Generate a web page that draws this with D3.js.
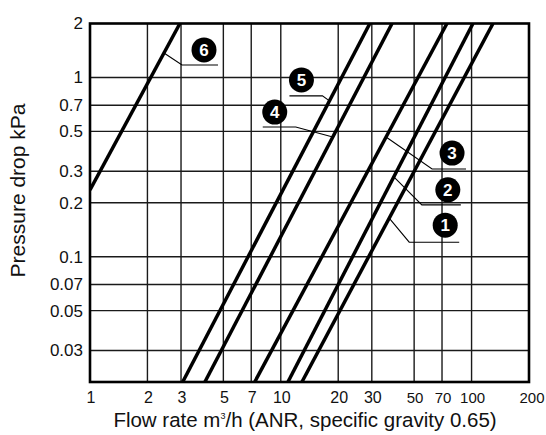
<!DOCTYPE html>
<html>
<head>
<meta charset="utf-8">
<script src="https://cdn.jsdelivr.net/npm/d3@7"></script>
<style>
  body { margin: 0; background: #fff; }
  text { font-family: "Liberation Sans", Arial, sans-serif; fill: #111; }
  .narrow { font-family: "Liberation Sans Narrow", "Liberation Sans", Arial, sans-serif; }
</style>
</head>
<body>
<div id="main"></div>
<script>

// data
var series = ["1", "2", "3", "4", "5", "6"];
// each line given by the two points where it meets the frame [flow, pressure]
var flow_start = [12.9, 10.9, 7.3, 4.0, 3.06, 1];
var press_start = [0.02, 0.02, 0.02, 0.02, 0.02, 0.236];
var flow_end = [129.5, 101.7, 74.3, 38.3, 29.3, 2.96];
var press_end = [2, 2, 2, 2, 2, 2];
// pressure where each label leader touches its line
var label_press = [0.164, 0.279, 0.465, 0.465, 0.74, 1.37];

var x_ticks = [1, 2, 3, 5, 7, 10, 20, 30, 50, 70, 100, 200];
var y_ticks = [2, 1, 0.7, 0.5, 0.3, 0.2, 0.1, 0.07, 0.05, 0.03];

// dimensions
var svg_width = 546,
    svg_height = 435;
var margin = {top: 23.5, right: 17, bottom: 53, left: 90};
var graph_width = svg_width - margin.left - margin.right,
    graph_height = svg_height - margin.top - margin.bottom;

var svg = d3.select("#main").append("svg")
    .attr("width", svg_width)
    .attr("height", svg_height)
    .append("g").attr("id", "graph")
    .attr("transform", "translate(" + margin.left + "," + margin.top + ")");

/** scales **/
var xScale = d3.scaleLog().domain([1, 200]).range([0, graph_width]);
var yScale = d3.scaleLog().domain([0.02, 2]).range([graph_height, 0]);

/** grid **/
svg.selectAll(".vgrid")
    .data(x_ticks.slice(1, -1))
    .enter().append("line")
    .attr("class", "vgrid")
    .attr("x1", function(d) { return xScale(d); })
    .attr("x2", function(d) { return xScale(d); })
    .attr("y1", 0).attr("y2", graph_height)
    .attr("stroke", "#1a1a1a").attr("stroke-width", 1.4);

svg.selectAll(".hgrid")
    .data(y_ticks.slice(1))
    .enter().append("line")
    .attr("class", "hgrid")
    .attr("y1", function(d) { return yScale(d); })
    .attr("y2", function(d) { return yScale(d); })
    .attr("x1", 0).attr("x2", graph_width)
    .attr("stroke", "#1a1a1a").attr("stroke-width", 1.4);

/** tick labels **/
svg.selectAll(".xlab")
    .data(x_ticks)
    .enter().append("text")
    .attr("class", function(d) { return d >= 50 ? "xlab narrow" : "xlab"; })
    .attr("x", function(d) { return xScale(d) + (d == 200 ? 3 : 1); })
    .attr("y", graph_height + 21)
    .attr("text-anchor", "middle")
    .style("font-size", function(d) { return d >= 50 ? "15px" : "16px"; })
    .text(function(d) { return d; });

svg.selectAll(".ylab")
    .data(y_ticks)
    .enter().append("text")
    .attr("class", "ylab")
    .attr("x", -7)
    .attr("y", function(d) { return yScale(d); })
    .attr("dy", "0.35em")
    .attr("text-anchor", "end")
    .style("font-size", "17px")
    .text(function(d) { return d; });

/** axis titles **/
var xtitle = svg.append("text")
    .attr("x", 215)
    .attr("y", graph_height + 45)
    .attr("text-anchor", "middle")
    .style("font-size", "20.5px");
xtitle.append("tspan").text("Flow rate m");
xtitle.append("tspan").attr("dy", "-8px").style("font-size", "9px").text("3");
xtitle.append("tspan").attr("dy", "8px").text("/h (ANR, specific gravity 0.65)");

svg.append("text")
    .attr("transform", "translate(-65," + 167 + ") rotate(-90)")
    .attr("text-anchor", "middle")
    .style("font-size", "21px")
    .text("Pressure drop kPa");

/** lines **/
svg.append("clipPath").attr("id", "clip")
    .append("rect").attr("width", graph_width).attr("height", graph_height);

var lines = series.map(function(s, i) {
    return {key: s, pts: [[flow_start[i], press_start[i]], [flow_end[i], press_end[i]]]};
});

var line = d3.line()
    .x(function(d) { return xScale(d[0]); })
    .y(function(d) { return yScale(d[1]); });

svg.selectAll(".series")
    .data(lines)
    .enter().append("path")
    .attr("class", "series")
    .attr("clip-path", "url(#clip)")
    .attr("d", function(d) { return line(d.pts); })
    .attr("fill", "none")
    .attr("stroke", "#000")
    .attr("stroke-width", 3.5);

/** frame **/
svg.append("rect")
    .attr("width", graph_width).attr("height", graph_height)
    .attr("fill", "none").attr("stroke", "#000").attr("stroke-width", 2.6);

/** labels with leaders **/
// offsets in px from the anchor point: elbow, end, bubble centre
var leader = [
    {elbow: [20, 24], end: [70, 24], bubble: [56, 7]},
    {elbow: [28, 28], end: [67, 28], bubble: [54, 13]},
    {elbow: [46, 32], end: [80, 32], bubble: [66, 16]},
    {elbow: [-37, -10], end: [-70, -10], bubble: [-58, -25]},
    {elbow: [-7, -5], end: [-40, -5], bubble: [-28, -21]},
    {elbow: [18, 12], end: [54, 12], bubble: [40, -3]}
];

function flowAt(i, p) {
    // log interpolation along line i
    var t = Math.log(p / press_start[i]) / Math.log(press_end[i] / press_start[i]);
    return Math.exp(Math.log(flow_start[i]) + t * Math.log(flow_end[i] / flow_start[i]));
}

series.forEach(function(s, i) {
    var ax = xScale(flowAt(i, label_press[i])),
        ay = yScale(label_press[i]);
    var L = leader[i];
    svg.append("path")
        .attr("d", "M" + ax + "," + ay +
            "L" + (ax + L.elbow[0]) + "," + (ay + L.elbow[1]) +
            "L" + (ax + L.end[0]) + "," + (ay + L.end[1]))
        .attr("fill", "none").attr("stroke", "#000").attr("stroke-width", 1.1);
    svg.append("circle")
        .attr("cx", ax + L.bubble[0]).attr("cy", ay + L.bubble[1])
        .attr("r", 12.5).attr("fill", "#000");
    svg.append("text")
        .attr("x", ax + L.bubble[0]).attr("y", ay + L.bubble[1])
        .attr("dy", "0.36em")
        .attr("text-anchor", "middle")
        .style("font-size", "17px").style("font-weight", "bold").style("fill", "#fff")
        .text(s);
});

</script>
</body>
</html>
